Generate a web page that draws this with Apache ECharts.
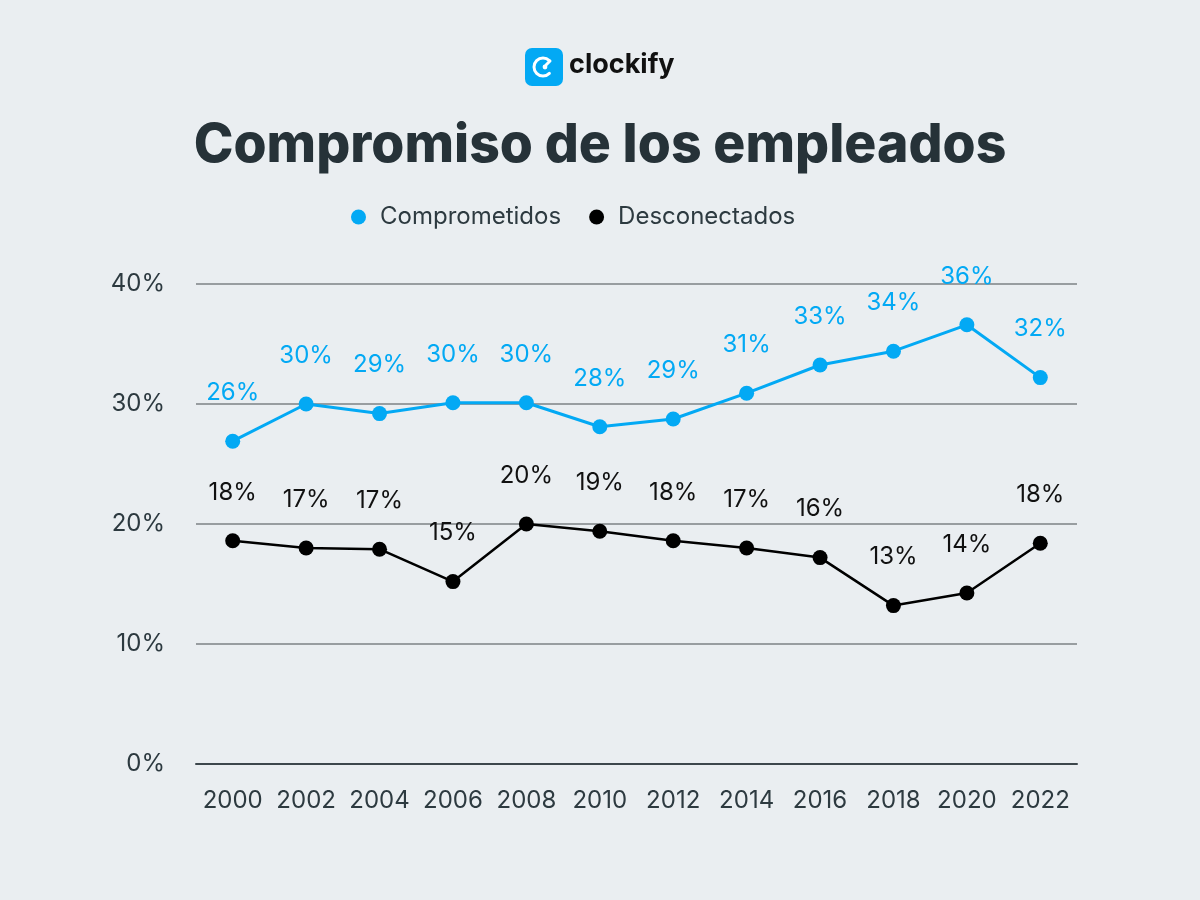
<!DOCTYPE html>
<html><head><meta charset="utf-8">
<script src="https://cdn.jsdelivr.net/npm/echarts@6/dist/echarts.min.js"></script>
<style>html,body{margin:0;padding:0;background:#eaeef1}#c{width:1200px;height:900px}</style>
</head><body><div id="c"></div>
<script>
const years = ['2000','2002','2004','2006','2008','2010','2012','2014','2016','2018','2020','2022'];
const comprometidos = [26.9, 30.0, 29.2, 30.1, 30.1, 28.1, 28.75, 30.9, 33.25, 34.4, 36.6, 32.2];
const comprometidosLabels = ['26%','30%','29%','30%','30%','28%','29%','31%','33%','34%','36%','32%'];
const desconectados = [18.6, 18.0, 17.9, 15.2, 20.0, 19.4, 18.6, 18.0, 17.2, 13.2, 14.25, 18.4];
const desconectadosLabels = ['18%','17%','17%','15%','20%','19%','18%','17%','16%','13%','14%','18%'];
const yTicks = [0, 10, 20, 30, 40];

const chart = echarts.init(document.getElementById('c'));
chart.setOption({
  backgroundColor: '#eaeef1',
  animation: false,
  title: {
    text: 'Compromiso de los empleados',
    left: 'center', top: 114,
    textStyle: {fontFamily: 'Inter', fontWeight: 800, fontSize: 53.5, color: '#263238'}
  },
  legend: {
    top: 200, left: 346, itemGap: 28, itemWidth: 15, itemHeight: 15,
    icon: 'circle',
    textStyle: {fontFamily: 'Inter', fontSize: 24, color: '#2d3a40', padding: [0,0,0,9]},
    data: ['Comprometidos', 'Desconectados']
  },
  graphic: [
    {type: 'rect', shape: {x: 525, y: 48, width: 38, height: 38, r: 7}, style: {fill: '#03a9f4'}},
    {type: 'arc', shape: {cx: 543, cy: 67, r: 9, startAngle: Math.PI*0.25, endAngle: Math.PI*1.75, clockwise: true}, style: {stroke: '#fff', lineWidth: 3, fill: null, lineCap: 'round'}},
    {type: 'circle', shape: {cx: 545, cy: 67, r: 2.4}, style: {fill: '#fff'}},
    {type: 'line', shape: {x1: 546, y1: 65, x2: 550, y2: 61}, style: {stroke: '#fff', lineWidth: 3, lineCap: 'round'}},
    {type: 'text', left: 569, top: 51, style: {text: 'clockify', fontFamily: 'Inter', fontWeight: 700, fontSize: 27, fill: '#111'}}
  ],
  grid: {left: 196, right: 123, top: 284, bottom: 136},
  xAxis: {
    type: 'category', data: years, boundaryGap: true,
    axisLine: {show: true, lineStyle: {color: '#3d474c', width: 2}},
    axisTick: {show: false},
    axisLabel: {fontFamily: 'Inter', fontSize: 24, color: '#2d3a40', margin: 25, interval: 0}
  },
  yAxis: {
    type: 'value', min: yTicks[0], max: yTicks[yTicks.length-1], interval: 10,
    axisLine: {show: false}, axisTick: {show: false},
    axisLabel: {fontFamily: 'Inter', fontSize: 24, color: '#2d3a40', margin: 31, formatter: v => v + '%'},
    splitLine: {lineStyle: {color: '#7d8285', width: 1.5}}
  },
  series: [
    {
      name: 'Comprometidos', type: 'line', data: comprometidos,
      color: '#03a9f4', symbol: 'circle', symbolSize: 15,
      lineStyle: {width: 3, color: '#03a9f4'}, itemStyle: {color: '#03a9f4'},
      label: {show: true, position: 'top', distance: 29, fontFamily: 'Inter', fontSize: 24, color: '#03a9f4',
        formatter: p => comprometidosLabels[p.dataIndex]}
    },
    {
      name: 'Desconectados', type: 'line', data: desconectados,
      color: '#000', symbol: 'circle', symbolSize: 15,
      lineStyle: {width: 2.5, color: '#000'}, itemStyle: {color: '#000'},
      label: {show: true, position: 'top', distance: 29, fontFamily: 'Inter', fontSize: 24, color: '#111',
        formatter: p => desconectadosLabels[p.dataIndex]}
    }
  ]
});
</script></body></html>
